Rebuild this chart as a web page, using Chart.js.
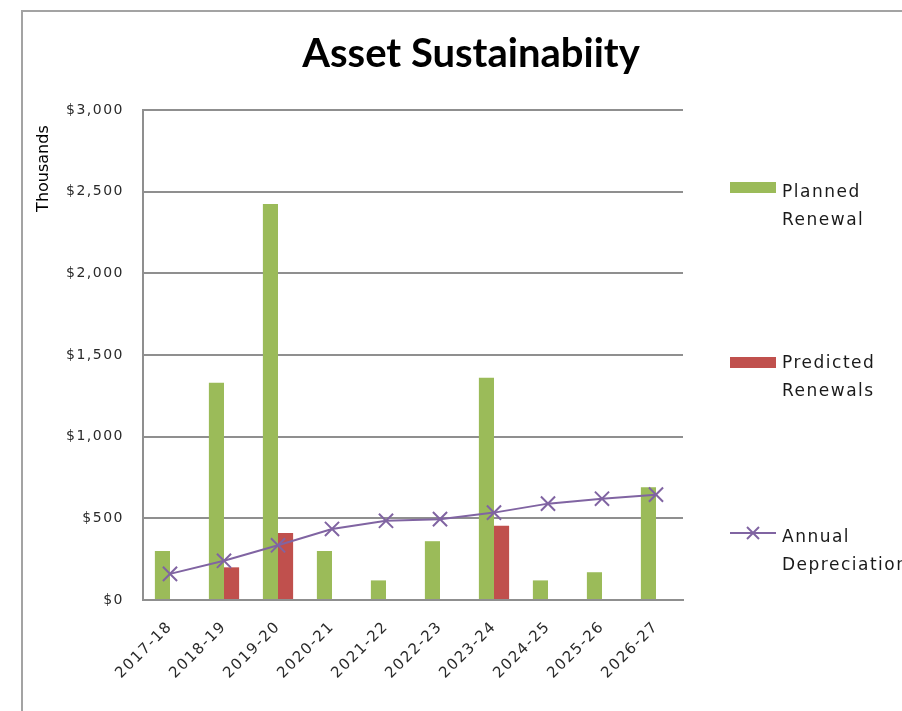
<!DOCTYPE html>
<html>
<head>
<meta charset="utf-8">
<script src="https://cdn.jsdelivr.net/npm/chart.js@4.4.1/dist/chart.umd.min.js"></script>
<style>
  html, body { margin: 0; padding: 0; background: #fff; overflow: hidden; width: 902px; height: 711px; }
  #frame { position: absolute; left: 21px; top: 10px; width: 1000px; height: 800px; border-left: 2px solid #a3a3a3; border-top: 2px solid #a3a3a3; }
  #chart { position: absolute; left: 0; top: 0; }
  .key { position: absolute; left: 782px; font-family: 'DejaVu Sans', sans-serif; font-size: 17px; letter-spacing: 1.5px; line-height: 28px; color: #1a1a1a; white-space: nowrap; }
  .swatch { position: absolute; left: 730px; width: 46px; height: 11px; }
</style>
</head>
<body>
<div id="frame"></div>
<canvas id="chart" width="942" height="711"></canvas>

<div class="swatch" style="top:182px; background:#9bbb59"></div>
<div class="key" style="top:177px">Planned<br>Renewal</div>
<div class="swatch" style="top:357px; background:#c0504d"></div>
<div class="key" style="top:348px">Predicted<br>Renewals</div>
<svg style="position:absolute; left:730px; top:523px" width="46" height="20">
  <line x1="0" y1="10" x2="46" y2="10" stroke="#8064a2" stroke-width="2"/>
  <line x1="17" y1="4" x2="29" y2="16" stroke="#8064a2" stroke-width="2"/>
  <line x1="17" y1="16" x2="29" y2="4" stroke="#8064a2" stroke-width="2"/>
</svg>
<div class="key" style="top:522px">Annual<br>Depreciation</div>

<script>
// values in thousands of dollars
const categories = ['2017-18', '2018-19', '2019-20', '2020-21', '2021-22', '2022-23', '2023-24', '2024-25', '2025-26', '2026-27'];
const plannedRenewal = [300, 1330, 2425, 300, 120, 360, 1360, 120, 170, 690];
const predictedRenewals = [null, 200, 410, null, null, null, 455, null, null, null];
const annualDepreciation = [160, 240, 335, 435, 485, 495, 535, 590, 620, 645];
const yMax = 3000;
const yStep = 500;

const green = '#9bbb59';
const red = '#c0504d';
const purple = '#8064a2';
const gridGrey = '#8f8f8f';

// tick labels get a bit of letter spacing, the title does not
const spacing = {
  id: 'spacing',
  beforeDraw(chart) { chart.ctx.letterSpacing = '0px'; },
  beforeDatasetsDraw(chart) { chart.ctx.letterSpacing = '1.5px'; },
  afterDraw(chart) { chart.ctx.letterSpacing = '0px'; }
};

new Chart(document.getElementById('chart'), {
  type: 'bar',
  data: {
    labels: categories,
    datasets: [
      {
        type: 'line',
        label: 'Annual Depreciation',
        data: annualDepreciation,
        borderColor: purple,
        borderWidth: 2,
        backgroundColor: 'transparent',
        pointStyle: 'crossRot',
        pointRadius: 10,
        pointBorderWidth: 2,
        pointBorderColor: purple,
        tension: 0,
        order: 0
      },
      {
        label: 'Planned Renewal',
        data: plannedRenewal,
        backgroundColor: green,
        order: 1
      },
      {
        label: 'Predicted Renewals',
        data: predictedRenewals,
        backgroundColor: red,
        order: 2
      }
    ]
  },
  options: {
    responsive: false,
    devicePixelRatio: 1,
    animation: false,
    datasets: {
      bar: { categoryPercentage: 0.56, barPercentage: 1 }
    },
    layout: { padding: 0 },
    scales: {
      x: {
        grid: { display: false },
        border: { color: gridGrey, width: 2 },
        ticks: {
          autoSkip: false,
          minRotation: 45,
          maxRotation: 45,
          padding: 10,
          z: 1,
          color: '#2a2a2a',
          font: { family: 'DejaVu Sans', size: 15 }
        },
        afterFit(s) { s.height = 111; }
      },
      y: {
        min: 0,
        max: yMax,
        grid: { color: gridGrey, lineWidth: 2, drawTicks: false },
        border: { color: gridGrey, width: 2 },
        ticks: {
          stepSize: yStep,
          padding: 19,
          z: 1,
          color: '#2a2a2a',
          font: { family: 'DejaVu Sans', size: 14 },
          callback: v => '$' + v.toLocaleString('en-US')
        },
        title: {
          display: true,
          text: 'Thousands   ',
          align: 'end',
          color: '#000',
          font: { family: 'DejaVu Sans', size: 16 },
          padding: { top: 34, bottom: 0 }
        },
        afterFit(s) { s.width = 143; }
      },
      // empty axis that holds the room for the legend on the right
      pad: {
        type: 'linear',
        position: 'right',
        grid: { display: false },
        border: { display: false },
        ticks: { display: false },
        afterFit(s) { s.width = 259; }
      }
    },
    plugins: {
      legend: { display: false },
      tooltip: { enabled: false },
      title: {
        display: true,
        text: 'Asset Sustainabiity',
        color: '#000',
        font: { family: 'Lato', size: 40, weight: 'bold', lineHeight: 1.2 },
        padding: { top: 30, bottom: 32 }
      }
    }
  },
  plugins: [spacing]
});
</script>
</body>
</html>
